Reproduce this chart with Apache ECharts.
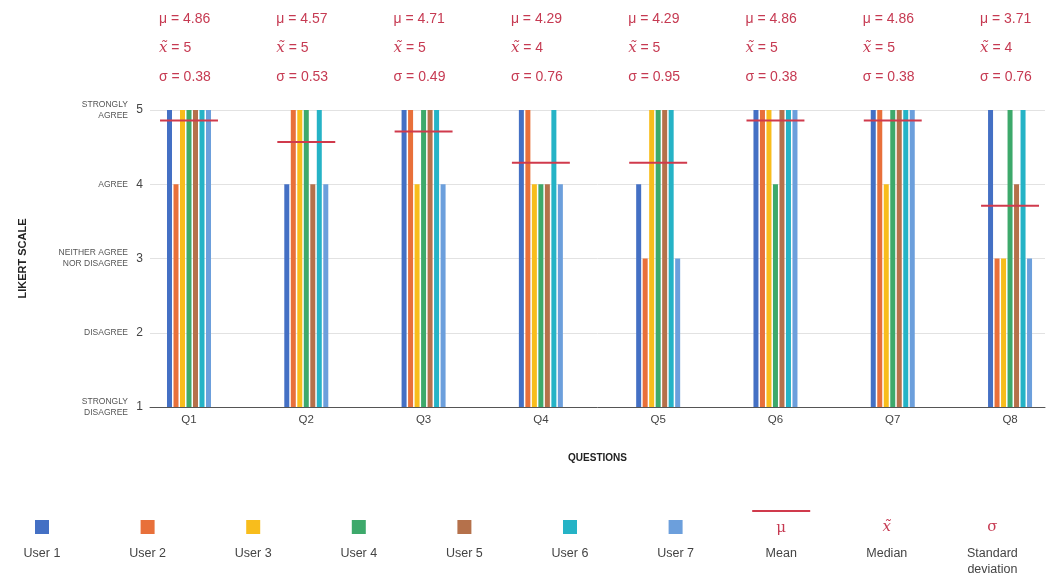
<!DOCTYPE html>
<html>
<head>
<meta charset="utf-8">
<script src="https://cdn.jsdelivr.net/npm/echarts@6/dist/echarts.min.js"></script>
<style>
  html, body { margin: 0; padding: 0; background: #fff; }
  #chart { width: 1054px; height: 581px; }
</style>
</head>
<body>
<div id="chart"></div>
<script>
// ---- data ----
const categories = ['Q1', 'Q2', 'Q3', 'Q4', 'Q5', 'Q6', 'Q7', 'Q8'];
const userNames = ['User 1', 'User 2', 'User 3', 'User 4', 'User 5', 'User 6', 'User 7'];
const user1 = [5, 4, 5, 5, 4, 5, 5, 5];
const user2 = [4, 5, 5, 5, 3, 5, 5, 3];
const user3 = [5, 5, 4, 4, 5, 5, 4, 3];
const user4 = [5, 5, 5, 4, 5, 4, 5, 5];
const user5 = [5, 4, 5, 4, 5, 5, 5, 4];
const user6 = [5, 5, 5, 5, 5, 5, 5, 5];
const user7 = [5, 4, 4, 4, 3, 5, 5, 3];
const means   = [4.86, 4.57, 4.71, 4.29, 4.29, 4.86, 4.86, 3.71];
const medians = [5, 5, 5, 4, 5, 5, 5, 4];
const stdDevs = [0.38, 0.53, 0.49, 0.76, 0.95, 0.38, 0.38, 0.76];
const yTickValues = [1, 2, 3, 4, 5];
const yTickLabels = ['STRONGLY\nDISAGREE', 'DISAGREE', 'NEITHER AGREE\nNOR DISAGREE', 'AGREE', 'STRONGLY\nAGREE'];
const legendLabels = ['User 1', 'User 2', 'User 3', 'User 4', 'User 5', 'User 6', 'User 7', 'Mean', 'Median', 'Standard\ndeviation'];

// ---- styles ----
const userColors = ['#4470c4', '#e8703a', '#f8bd1c', '#3da96b', '#b5714b', '#25b3c6', '#6c9fdc'];
const red = '#d03a4c';
const redText = '#c63a52';
const users = [user1, user2, user3, user4, user5, user6, user7];
const catIdx = categories.map((c, i) => i);

const chart = echarts.init(document.getElementById('chart'), null, { renderer: 'canvas' });

const barSeries = users.map((vals, u) => ({
  name: userNames[u],
  type: 'bar',
  data: vals.map((v, i) => [i, v]),
  barWidth: 5,
  barGap: '30%',
  itemStyle: { color: userColors[u] },
  z: 2
}));

const meanSeries = {
  name: 'Mean',
  type: 'custom',
  data: means.map((m, i) => [i, m]),
  renderItem: function (params, api) {
    const a = api.coord([api.value(0) - 0.247, api.value(1)]);
    const b = api.coord([api.value(0) + 0.247, api.value(1)]);
    return {
      type: 'line',
      shape: { x1: a[0], y1: a[1], x2: b[0], y2: b[1] },
      style: { stroke: red, lineWidth: 2 }
    };
  },
  z: 5
};

// legend drawn as graphic (icon above text)
const legendGraphic = [];
const legX0 = 42, legStep = 105.6, iconY = 527, textY = 553;
legendLabels.forEach((lab, k) => {
  const cx = legX0 + k * legStep;
  if (k < 7) {
    legendGraphic.push({ type: 'rect', shape: { x: cx - 7, y: iconY - 7, width: 14, height: 14 }, style: { fill: userColors[k] } });
  } else if (k === 7) {
    legendGraphic.push({ type: 'line', shape: { x1: cx - 29, y1: 511, x2: cx + 29, y2: 511 }, style: { stroke: red, lineWidth: 2 } });
    legendGraphic.push({ type: 'text', style: { text: 'μ', x: cx, y: iconY + 1, fill: redText, font: '15px "DejaVu Serif", serif', textAlign: 'center', textVerticalAlign: 'middle' } });
  } else if (k === 8) {
    legendGraphic.push({ type: 'text', style: { text: 'x̃', x: cx, y: iconY, fill: redText, font: 'italic 15px "DejaVu Serif", serif', textAlign: 'center', textVerticalAlign: 'middle' } });
  } else {
    legendGraphic.push({ type: 'text', style: { text: 'σ', x: cx, y: iconY, fill: redText, font: '15px "DejaVu Serif", serif', textAlign: 'center', textVerticalAlign: 'middle' } });
  }
  legendGraphic.push({ type: 'text', style: { text: lab, x: cx, y: textY - 7, fill: '#444', font: '12.5px "Liberation Sans", Arial, sans-serif', textAlign: 'center', textVerticalAlign: 'top', lineHeight: 16 } });
});

const option = {
  animation: false,
  backgroundColor: '#fff',
  grid: { left: 150, right: 9, top: 110, bottom: 174 },
  xAxis: [
    {
      type: 'value',
      position: 'bottom',
      min: -0.3325,
      max: 7.298,
      splitLine: { show: false },
      axisTick: { show: false },
      axisLine: { show: true, lineStyle: { color: '#555', width: 1 } },
      axisLabel: {
        customValues: catIdx,
        formatter: v => categories[Math.round(v)],
        color: '#444',
        fontSize: 11.5,
        fontFamily: '"Liberation Sans", Arial, sans-serif',
        margin: 7
      },
      name: 'QUESTIONS',
      nameLocation: 'middle',
      nameGap: 46,
      nameTextStyle: { fontWeight: 'bold', fontSize: 10, color: '#222', fontFamily: '"Liberation Sans", Arial, sans-serif' }
    },
    {
      type: 'value',
      position: 'top',
      min: -0.3325,
      max: 7.298,
      splitLine: { show: false },
      axisTick: { show: false },
      axisLine: { show: false },
      axisLabel: {
        customValues: catIdx,
        margin: 18,
        formatter: function (v) {
          const i = Math.round(v);
          return '{t|μ = ' + means[i].toFixed(2) + '}\n{s|x̃}{t| = ' + medians[i] + '}\n{t|σ = ' + stdDevs[i].toFixed(2) + '}';
        },
        rich: {
          t: { color: redText, fontSize: 14, lineHeight: 29, fontFamily: '"Liberation Sans", Arial, sans-serif' },
          s: { color: redText, fontSize: 15, lineHeight: 29, fontStyle: 'italic', fontFamily: '"DejaVu Serif", serif' }
        },
        align: 'left',
        padding: [0, 0, 0, -30]
      }
    }
  ],
  yAxis: [
    {
      type: 'value',
      min: 1,
      max: 5,
      interval: 1,
      axisLine: { show: false },
      axisTick: { show: false },
      splitLine: { show: true, lineStyle: { color: '#e2e2e2', width: 1 } },
      axisLabel: { color: '#444', fontSize: 12, margin: 7, fontFamily: '"Liberation Sans", Arial, sans-serif' },
      name: 'LIKERT SCALE',
      nameLocation: 'middle',
      nameGap: 122,
      nameRotate: 90,
      nameTextStyle: { fontWeight: 'bold', fontSize: 11, color: '#222', fontFamily: '"Liberation Sans", Arial, sans-serif' }
    },
    {
      type: 'value',
      position: 'left',
      min: 1,
      max: 5,
      interval: 1,
      axisLine: { show: false },
      axisTick: { show: false },
      splitLine: { show: false },
      axisLabel: {
        margin: 22,
        formatter: v => yTickLabels[yTickValues.indexOf(Math.round(v))] || '',
        color: '#555',
        fontSize: 8.5,
        lineHeight: 11,
        align: 'right',
        fontFamily: '"Liberation Sans", Arial, sans-serif'
      }
    }
  ],
  graphic: legendGraphic,
  series: barSeries.concat([meanSeries])
};

chart.setOption(option);
</script>
</body>
</html>
